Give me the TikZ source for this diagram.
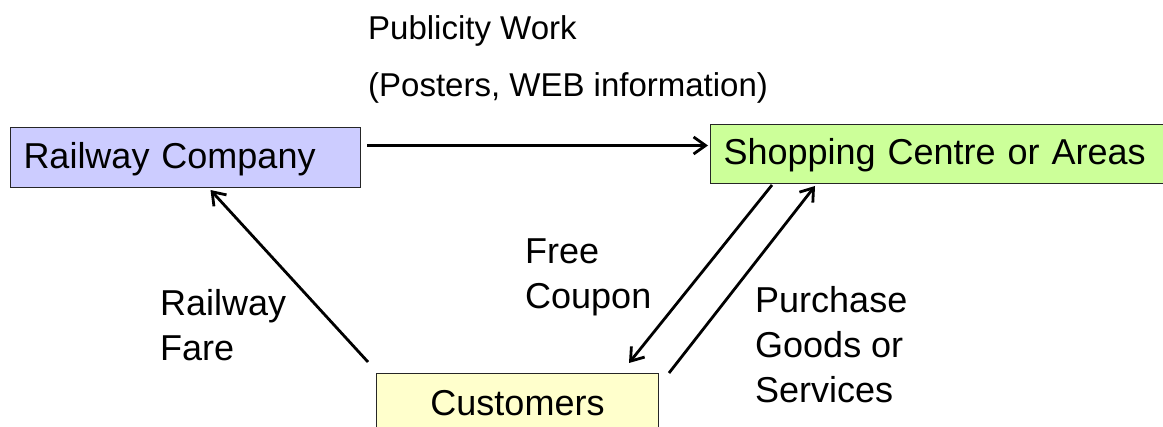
\documentclass[tikz,border=0pt]{standalone}
\usepackage{fontspec}
\setmainfont{Liberation Sans}
\usetikzlibrary{arrows.meta}
\definecolor{boxblue}{HTML}{CCCCFF}
\definecolor{boxgreen}{HTML}{CCFF99}
\definecolor{boxyellow}{HTML}{FFFFCC}
\tikzset{
  entity/.style={draw=black!85, line width=1pt, rectangle, anchor=north west,
    inner xsep=13pt, inner ysep=0pt, text height=30pt, text depth=8pt,
    font=\fontsize{36}{42}\selectfont},
  flow/.style={line width=2.8pt, -{Straight Barb[length=12pt,width=17pt,line width=2.8pt]}},
  label/.style={anchor=base west, inner sep=0pt, align=left,
    font=\fontsize{36}{45}\selectfont},
  toplabel/.style={anchor=base west, inner sep=0pt,
    font=\fontsize{33}{40}\selectfont}
}
\begin{document}
\begin{tikzpicture}[x=1pt,y=-1pt]
  \useasboundingbox (0,0) rectangle (1163,427);

  % the three parties
  \node[entity, fill=boxblue, minimum width=350pt, minimum height=60pt,
        text width=324pt, align=left] (rc) at (10,127) {Railway Company};
  \node[entity, fill=boxgreen, minimum width=453pt, minimum height=59pt,
        text width=427pt, align=left] (sc) at (710,124) {Shopping Centre or Areas};
  \node[entity, fill=boxyellow, minimum width=282pt, minimum height=62pt,
        text width=256pt, align=center] (cu) at (376,373) {Customers};

  % flows between them
  \draw[flow] ([xshift=6pt,yshift=12pt]rc.east) -- ([xshift=-2pt,yshift=8.5pt]sc.west);
  \draw[flow] ([xshift=-8pt,yshift=11pt]cu.north west) -- ([xshift=25pt,yshift=-2pt]rc.south);
  \draw[flow] ([xshift=62pt,yshift=-1pt]sc.south west) -- ([xshift=-30pt,yshift=10pt]cu.north east);
  \draw[flow] ([xshift=10pt,yshift=0pt]cu.north east) -- ([xshift=105pt,yshift=-2pt]sc.south west);

  % flow labels (anchored on the baseline of their last line)
  \node[toplabel] (pub1) at (368,39.5) {Publicity Work};
  \node[toplabel] (pub2) at (368,97) {(Posters, WEB information)};
  \node[label] (fare) at (160,361) {Railway\\Fare};
  \node[label] (coupon) at (525,309) {Free\\Coupon};
  \node[label] (buy) at (755,403) {Purchase\\Goods or\\Services};
\end{tikzpicture}
\end{document}
